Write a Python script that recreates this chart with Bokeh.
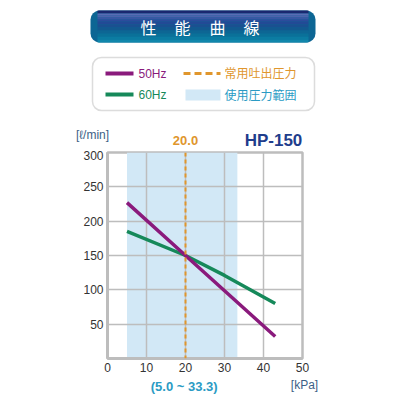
from bokeh.plotting import figure
from bokeh.layouts import column
from bokeh.models import BoxAnnotation, Label, Span, FixedTicker, Range1d
from bokeh.embed import file_html
from bokeh.resources import INLINE

# ---- data ----
x_50hz = [5, 20, 43]
y_50hz = [227, 150, 32]
x_60hz = [5, 20, 30, 43]
y_60hz = [185, 150, 121, 80]
band_left = [5.0]
band_right = [33.3]
normal_pressure = 20.0
x_ticks = [0, 10, 20, 30, 40, 50]
y_ticks = [50, 100, 150, 200, 250, 300]
title_chars = ["性", "能", "曲", "線"]
model_name = "HP-150"
range_text = "(5.0 ~ 33.3)"

PURPLE = "#8a1a7c"
GREEN = "#16895a"
ORANGE = "#e0962c"
BAND = "#d2e8f6"
TEAL = "#2a9bc4"
GRID = "#bdbdbd"
LABEL_BLUE = "#3d5f86"

W = 400
FRAME_L, FRAME_R = 107, 302          # pixel columns of the chart frame
X_MIN, X_MAX = 0, 50

def px(x):
    """x data value -> pixel column (for texts in header/footer)."""
    return FRAME_L + (x - X_MIN) * (FRAME_R - FRAME_L) / (X_MAX - X_MIN)

def blank(h):
    f = figure(width=W, height=h, x_range=Range1d(0, W), y_range=Range1d(h, 0),
               x_axis_type=None, y_axis_type=None, output_backend="svg",
               toolbar_location=None, min_border=0)
    f.outline_line_color = None
    f.grid.visible = False
    f.background_fill_color = "white"
    f.border_fill_color = "white"
    f.frame_align = False
    return f

def txt(f, X, Y, s, color, size="12px", bold=False, align="left", font="Noto Sans CJK JP"):
    f.add_layout(Label(x=X, y=Y, text=s, text_color=color, text_font=font,
                       text_font_size=size, text_align=align, text_baseline="middle",
                       text_font_style="bold" if bold else "normal"))

# ================= header =================
H1 = 150
hd = blank(H1)
# banner
hd.add_layout(BoxAnnotation(left=90, right=315, top=10, bottom=42,
                            fill_color="#0d6694", fill_alpha=1, line_color=None,
                            border_radius=9, level="underlay"))
stripes = [
    (10, 13, "#1a2870"),
    (13, 15, "#5a6cb4"),
    (15, 17, "#4d62ad"),
    (17, 19, "#3a56a4"),
    (19, 21, "#2c4c9c"),
    (21, 24, "#224a96"),
    (24, 27, "#1a5090"),
    (27, 30, "#13598f"),
    (30, 33, "#0d6694"),
    (33, 36, "#0a7199"),
    (36, 39, "#0b7ca2"),
    (39, 42, "#1187ab"),
]
hd.quad(left=[97] * len(stripes), right=[308] * len(stripes),
        top=[s[0] for s in stripes], bottom=[s[1] for s in stripes],
        fill_color=[s[2] for s in stripes], line_color=None)
for ch, cx in zip(title_chars, [148, 182, 217, 251]):
    txt(hd, cx, 26, ch, "white", size="16px", align="center")

# legend box
hd.add_layout(BoxAnnotation(left=92, right=314, top=57, bottom=110,
                            fill_color="white", fill_alpha=1, line_color="#8a8a8a",
                            line_width=1.5, border_radius=9, level="underlay"))
hd.line([105, 133], [73, 73], line_color=PURPLE, line_width=4)
hd.line([105, 133], [94, 94], line_color=GREEN, line_width=4)
hd.line([183, 220], [73, 73], line_color=ORANGE, line_width=3, line_dash="7 4")
hd.quad(left=[185], right=[220], top=[89], bottom=[100], fill_color=BAND, line_color=None)
txt(hd, 138, 73, "50Hz", PURPLE, font="Liberation Sans")
txt(hd, 138, 94, "60Hz", GREEN, font="Liberation Sans")
txt(hd, 224, 72, "常用吐出圧力", ORANGE)
txt(hd, 224, 94, "使用圧力範囲", TEAL)

# labels above the chart
txt(hd, 92, 134, "[ℓ/min]", LABEL_BLUE, size="12px", align="center", font="Liberation Sans")
txt(hd, px(normal_pressure), 140, "%.1f" % normal_pressure, ORANGE, size="13px",
    bold=True, align="center", font="Liberation Sans")
txt(hd, 273, 140, model_name, "#1f3d8c", size="17px", bold=True, align="center",
    font="Liberation Sans")

# ================= chart =================
H2 = 228   # rows 150..378, frame 152..358
p = figure(width=W, height=H2, x_range=(X_MIN, X_MAX), y_range=(0, 300),
           output_backend="svg", toolbar_location=None,
           min_border_left=FRAME_L, min_border_right=W - FRAME_R,
           min_border_top=2, min_border_bottom=20)
p.frame_align = False
p.background_fill_color = "white"
p.border_fill_color = "white"
p.outline_line_color = GRID
p.outline_line_width = 2.5

p.xaxis.ticker = FixedTicker(ticks=x_ticks)
p.yaxis.ticker = FixedTicker(ticks=y_ticks)
for ax in (p.xaxis, p.yaxis):
    ax.major_tick_out = 0
    ax.major_tick_in = 0
    ax.minor_tick_out = 0
    ax.minor_tick_in = 0
    ax.axis_line_color = GRID
    ax.axis_line_width = 3
    ax.major_label_text_font = "Liberation Sans"
    ax.major_label_text_font_size = "12px"
    ax.major_label_text_color = "#333333"
    ax.major_label_standoff = 4
p.grid.grid_line_color = GRID
p.grid.grid_line_width = 1.5

p.quad(left=band_left, right=band_right, bottom=[0], top=[300],
       fill_color=BAND, line_color=None, level="image")
p.add_layout(Span(location=normal_pressure, dimension="height",
                  line_color=ORANGE, line_width=2, line_dash="4 3"))
p.line(x_60hz, y_60hz, line_color=GREEN, line_width=3.5)
p.line(x_50hz, y_50hz, line_color=PURPLE, line_width=3.5)

# ================= footer =================
H3 = W - H1 - H2
ft = blank(H3)
mid = (band_left[0] + band_right[0]) / 2
txt(ft, px(mid) + 2, 386 - 378, range_text, TEAL, size="13px", bold=True,
    align="center", font="Liberation Sans")
txt(ft, 304, 384 - 378, "[kPa]", LABEL_BLUE, size="12px", align="center",
    font="Liberation Sans")

layout = column(hd, p, ft, spacing=0)
open("out.html", "w").write(file_html(layout, INLINE))
